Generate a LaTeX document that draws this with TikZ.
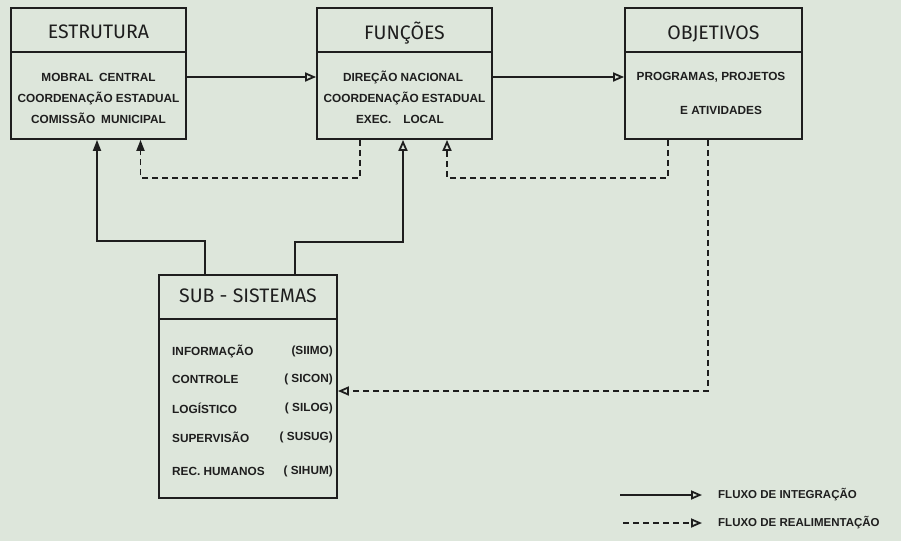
\documentclass[tikz,border=0pt]{standalone}
\usepackage{fontspec}
\setmainfont{Liberation Sans}
\newfontfamily\titlefont{Fira Sans}
\usetikzlibrary{arrows.meta,calc}
\definecolor{paper}{HTML}{DDE6DB}
\definecolor{ink}{HTML}{1E1E1E}
\tikzset{
  box/.style={draw=ink, line width=1.8pt, rectangle, inner sep=0pt},
  ttl/.style={font=\titlefont\fontsize{19.5}{21}\selectfont, text=ink, inner sep=0pt},
  bodytxt/.style={font=\bfseries\fontsize{11.8}{13}\selectfont, text=ink, inner sep=0pt},
  legtxt/.style={font=\bfseries\fontsize{11.5}{13}\selectfont, text=ink, inner sep=0pt, anchor=west},
  solidarrow/.style={draw=ink, line width=1.8pt, -{Triangle[open, length=11pt, width=9pt]}},
  solidfill/.style={draw=ink, line width=1.8pt, -{Triangle[length=11pt, width=8pt]}},
  dasharrow/.style={draw=ink, line width=1.8pt, dash pattern=on 6pt off 4pt, -{Triangle[open, length=11pt, width=9pt]}},
  dashfill/.style={draw=ink, line width=1.8pt, dash pattern=on 6pt off 4pt, -{Triangle[length=11pt, width=8pt]}},
  divider/.style={draw=ink, line width=1.8pt}
}
\begin{document}
\begin{tikzpicture}[x=1pt, y=-1pt]
\fill[paper] (0,0) rectangle (901,541);
\useasboundingbox (0,0) rectangle (901,541);

% boxes
\node[box, minimum width=175pt, minimum height=131pt] (estr) at (98.5,73.5) {};
\node[box, minimum width=175pt, minimum height=131pt] (func) at (404.5,73.5) {};
\node[box, minimum width=177pt, minimum height=131pt] (obj) at (713.5,73.5) {};
\node[box, minimum width=178pt, minimum height=223pt] (sub) at (248,386.5) {};

% dividers
\draw[divider] ($(estr.north west)+(0,45)$) -- ($(estr.north east)+(0,45)$);
\draw[divider] ($(func.north west)+(0,45)$) -- ($(func.north east)+(0,45)$);
\draw[divider] ($(obj.north west)+(0,45)$) -- ($(obj.north east)+(0,45)$);
\draw[divider] ($(sub.north west)+(0,45)$) -- ($(sub.north east)+(0,45)$);

% titles
\node[ttl] (estrT) at (98.5,32) {ESTRUTURA};
\node[ttl] (funcT) at (404.5,33) {FUNÇÕES};
\node[ttl] (objT) at (713.5,34) {OBJETIVOS};
\node[ttl] (subT) at (248,296) {SUB - SISTEMAS};

% body texts
\node[bodytxt] (e1) at (98.5,77) {MOBRAL\enspace CENTRAL};
\node[bodytxt] (e2) at (98.5,98) {COORDENAÇÃO ESTADUAL};
\node[bodytxt] (e3) at (98.5,118) {COMISSÃO\enspace MUNICIPAL};

\node[bodytxt] (f1) at (403,77) {DIREÇÃO NACIONAL};
\node[bodytxt] (f2) at (404.5,98) {COORDENAÇÃO ESTADUAL};
\node[bodytxt] (f3) at (400,119) {EXEC.\quad LOCAL};

\node[bodytxt] (o1) at (711,77) {PROGRAMAS, PROJETOS};
\node[bodytxt] (o2) at (721,110) {E ATIVIDADES};

\node[bodytxt, anchor=west] (s1) at (172,351) {INFORMAÇÃO};
\node[bodytxt, anchor=west] (s2) at (172,379) {CONTROLE};
\node[bodytxt, anchor=west] (s3) at (172,408) {LOGÍSTICO};
\node[bodytxt, anchor=west] (s4) at (172,437) {SUPERVISÃO};
\node[bodytxt, anchor=west] (s5) at (172,471) {REC. HUMANOS};
\node[bodytxt, anchor=east] (r1) at (333,351) {(SIIMO)};
\node[bodytxt, anchor=east] (r2) at (333,379) {( SICON)};
\node[bodytxt, anchor=east] (r3) at (333,408) {( SILOG)};
\node[bodytxt, anchor=east] (r4) at (333,437) {( SUSUG)};
\node[bodytxt, anchor=east] (r5) at (333,471) {( SIHUM)};

% integration flows
\draw[solidarrow] ([yshift=-3.5pt]estr.east) -- ([yshift=-3.5pt]func.west);
\draw[solidarrow] ([yshift=-3.5pt]func.east) -- ([yshift=-3.5pt]obj.west);
\draw[solidfill] ([xshift=-43pt]sub.north) -- ++(0,-33) -| ([xshift=-1.5pt]estr.south);
\draw[solidarrow] ([xshift=47pt]sub.north) -- ++(0,-32) -| ([xshift=-1.5pt]func.south);

% feedback flows
\draw[dashfill] ([xshift=-44.5pt]func.south) -- ++(0,38) -| ([xshift=42pt]estr.south);
\draw[dasharrow] ([xshift=-45.5pt]obj.south) -- ++(0,38) -| ([xshift=42.5pt]func.south);
\draw[dasharrow] ([xshift=-5.5pt]obj.south) |- ([yshift=-4.5pt]sub.east);

% legend
\node[legtxt] (l1) at (718,495) {FLUXO DE INTEGRAÇÃO};
\node[legtxt] (l2) at (718,523) {FLUXO DE REALIMENTAÇÃO};
\coordinate (l1s) at (620,495);
\coordinate (l2s) at (623,523);
\draw[solidarrow] (l1s) -- ([xshift=-16pt]l1.west);
\draw[dasharrow] (l2s) -- ([xshift=-16pt]l2.west);
\end{tikzpicture}
\end{document}
